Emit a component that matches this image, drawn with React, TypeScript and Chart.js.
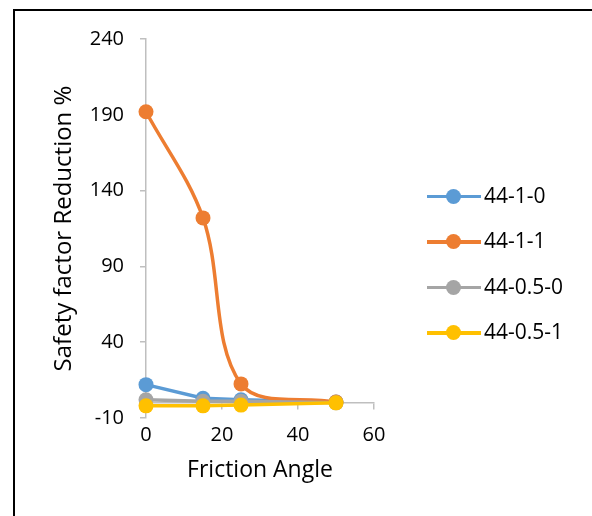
import React, { useEffect, useRef } from "react";
import { Chart, registerables } from "chart.js";

Chart.register(...registerables);

// ---- data ----
const frictionAngle = [0, 15, 25, 50];
const series_44_1_0 = [12, 3, 2, 0.5];
const series_44_1_1 = [192, 122, 12.5, 0.5];
const series_44_05_0 = [2, 1, 1, 0];
const series_44_05_1 = [-2, -2, -1.5, 0];
const seriesNames = ["44-1-0", "44-1-1", "44-0.5-0", "44-0.5-1"];
const seriesValues = [series_44_1_0, series_44_1_1, series_44_05_0, series_44_05_1];
const seriesColors = ["#5B9BD5", "#ED7D31", "#A5A5A5", "#FFC000"];
const seriesTension = [0, 0.35, 0, 0];
const xTicks = [0, 20, 40, 60];
const yTicks = [-10, 40, 90, 140, 190, 240];
const xTitle = "Friction Angle";
const yTitle = "Safety factor Reduction %";

const FONT = "'Open Sans', 'DejaVu Sans', sans-serif";
const AXIS = "#BFBFBF";

export default function App() {
  const ref = useRef<HTMLCanvasElement | null>(null);

  useEffect(() => {
    if (!ref.current) return;
    const datasets = seriesNames.map((name, i) => ({
      label: name,
      data: frictionAngle.map((x, j) => ({ x, y: seriesValues[i][j] })),
      borderColor: seriesColors[i],
      backgroundColor: seriesColors[i],
      pointBackgroundColor: seriesColors[i],
      pointBorderColor: seriesColors[i],
      borderWidth: 3.5,
      pointRadius: 7.5,
      pointBorderWidth: 0,
      tension: seriesTension[i],
      clip: false as any,
      order: 3 - i,
      xAxisID: "x",
      yAxisID: "y",
    }));

    const chart = new Chart(ref.current, {
      type: "line",
      data: { datasets },
      options: {
        responsive: false,
        animation: false,
        devicePixelRatio: 1,
        layout: { padding: { left: 0, top: 39, right: 218, bottom: 0 } },
        plugins: { legend: { display: false }, tooltip: { enabled: false } },
        scales: {
          x: {
            type: "linear",
            axis: "x",
            position: { y: 0 } as any,
            min: 0,
            max: 60,
            afterBuildTicks: (s: any) => {
              s.ticks = xTicks.map((v) => ({ value: v }));
            },
            ticks: { display: false },
            grid: {
              drawOnChartArea: false,
              drawTicks: true,
              tickLength: 6,
              color: AXIS,
              lineWidth: 1.5,
            },
            border: { display: true, color: AXIS, width: 1.5 },
          },
          x2: {
            type: "linear",
            axis: "x",
            position: "bottom",
            min: 0,
            max: 60,
            afterBuildTicks: (s: any) => {
              s.ticks = xTicks.map((v) => ({ value: v }));
            },
            grid: { display: false, drawTicks: false },
            border: { display: false },
            ticks: {
              padding: 5,
              color: "#000",
              font: { family: FONT, size: 20 },
              maxRotation: 0,
            },
            title: {
              display: true,
              text: xTitle,
              color: "#000",
              font: { family: FONT, size: 23 },
              padding: { top: 0, bottom: 32 },
            },
            afterFit: (s: any) => {
              s.height = 98;
            },
          },
          y: {
            type: "linear",
            position: "left",
            min: -10,
            max: 240,
            afterBuildTicks: (s: any) => {
              s.ticks = yTicks.map((v) => ({ value: v }));
            },
            grid: {
              drawOnChartArea: false,
              drawTicks: true,
              tickLength: 6,
              color: AXIS,
              lineWidth: 1.5,
            },
            border: { display: true, color: AXIS, width: 1.5 },
            ticks: {
              padding: 16,
              color: "#000",
              font: { family: FONT, size: 20 },
            },
            title: {
              display: true,
              text: yTitle,
              color: "#000",
              font: { family: FONT, size: 24 },
              padding: { top: 50, bottom: 0 },
            },
            afterFit: (s: any) => {
              s.width = 146;
            },
          },
        },
      } as any,
    });
    return () => chart.destroy();
  }, []);

  const legendTop = 196;
  const legendGap = 45.5;

  return (
    <div
      style={{
        position: "fixed",
        left: 0,
        top: 0,
        width: 592,
        height: 516,
        overflow: "hidden",
        background: "#fff",
      }}
    >
      <div
        style={{
          position: "absolute",
          left: 13,
          top: 9,
          width: 640,
          height: 600,
          border: "2px solid #000",
          boxSizing: "border-box",
        }}
      />
      <canvas
        ref={ref}
        width={592}
        height={516}
        style={{ position: "absolute", left: 0, top: 0, width: 592, height: 516 }}
      />
      {seriesNames.map((name, i) => {
        const yc = legendTop + i * legendGap;
        return (
          <div key={name}>
            <div
              style={{
                position: "absolute",
                left: 427,
                top: yc - 1.5,
                width: 54,
                height: 3.5,
                background: seriesColors[i],
              }}
            />
            <div
              style={{
                position: "absolute",
                left: 453 - 7.5,
                top: yc - 7.5,
                width: 15,
                height: 15,
                borderRadius: "50%",
                background: seriesColors[i],
              }}
            />
            <span
              style={{
                position: "absolute",
                left: 484,
                top: yc - 13.5,
                fontFamily: FONT,
                fontSize: 21,
                lineHeight: "25px",
                color: "#000",
                whiteSpace: "nowrap",
              }}
            >
              {name}
            </span>
          </div>
        );
      })}
    </div>
  );
}
